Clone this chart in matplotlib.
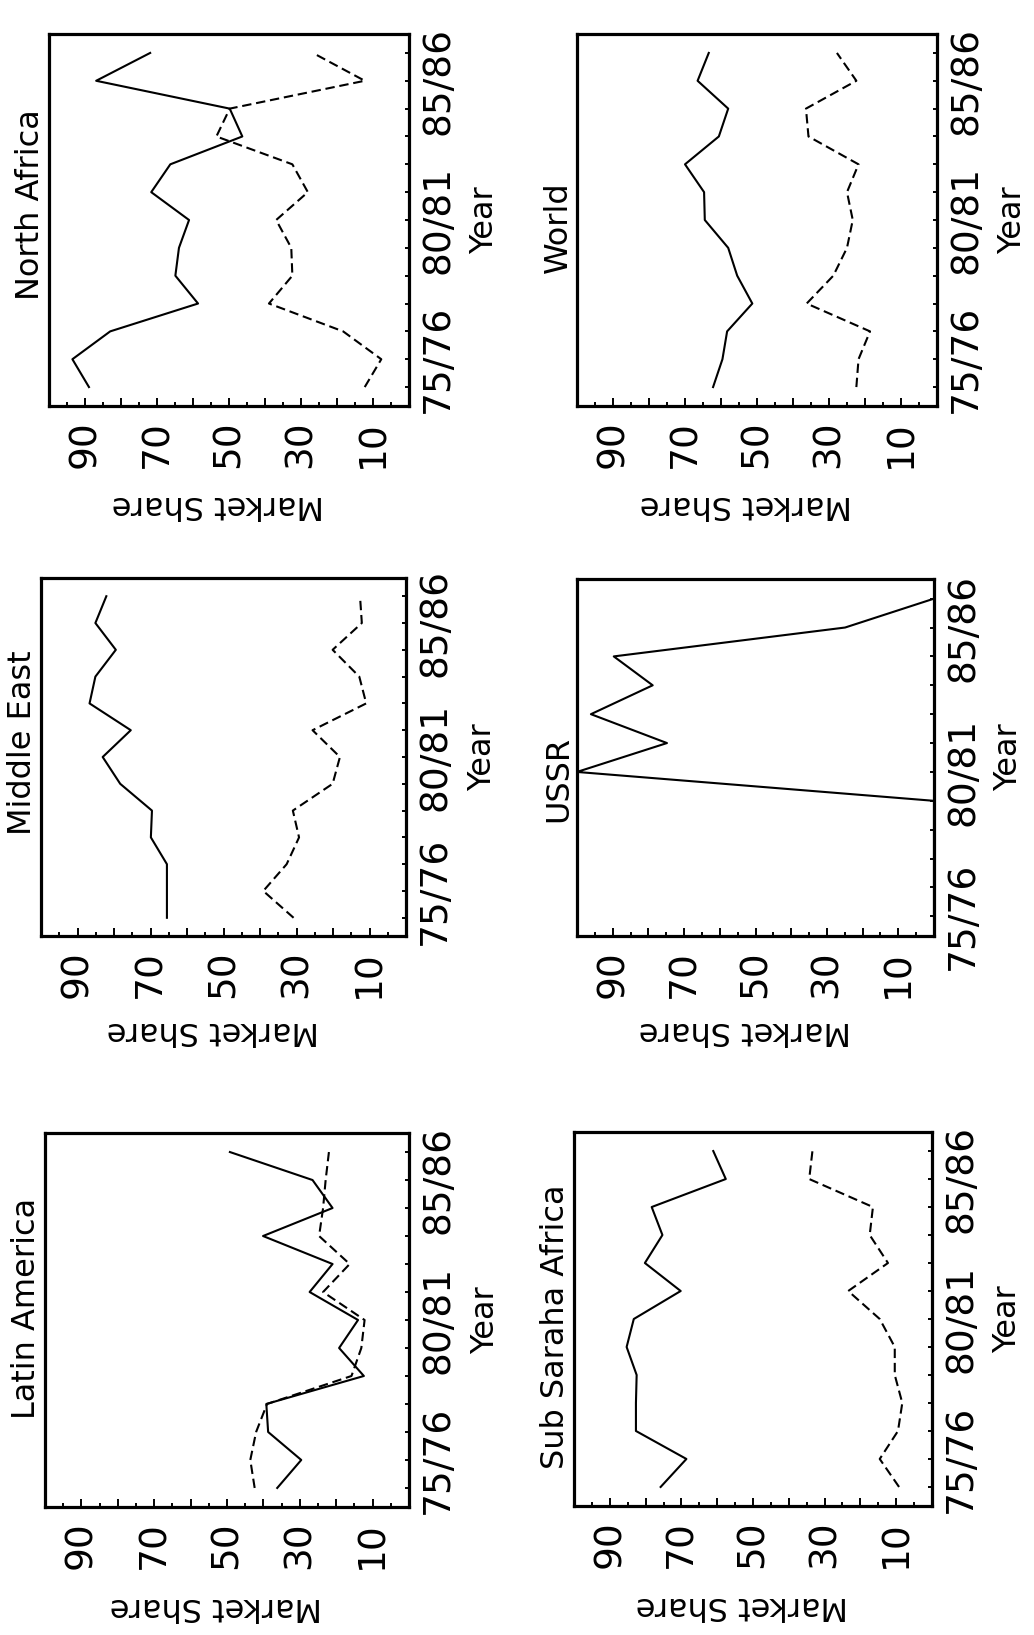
import numpy as np
import matplotlib.pyplot as plt

# crop years, one point per season
years = ['74/75', '75/76', '76/77', '77/78', '78/79', '79/80', '80/81',
         '81/82', '82/83', '83/84', '84/85', '85/86', '86/87']
year_labels = ['75/76', '80/81', '85/86']

share_major = [10, 20, 30, 40, 50, 60, 70, 80, 90]
share_minor = [5, 15, 25, 35, 45, 55, 65, 75, 85, 95]
share_labels = [90, 70, 50, 30, 10]

# market share, solid and dashed series for each region
latin_solid = [36.2, 29.6, 38.7, 39.2, 12.4, 19.2, 14.0, 27.3, 21.0, 40.1, 21.0, 26.5, 49.2]
latin_dashed = [42.4, 43.6, 42.0, 39.0, 15.8, 13.1, 12.2, 23.6, 16.3, 24.7, 23.6, 22.9, 22.0]

middle_solid = [65.5, 65.5, 65.5, 69.9, 69.6, 78.3, 83.1, 75.4, 86.7, 85.1, 79.5, 85.1, 82.1]
middle_dashed = [30.8, 39.1, 32.7, 29.3, 31.0, 20.1, 18.1, 25.6, 10.9, 12.8, 20.1, 12.1, 12.6]

north_solid = [88.9, 93.5, 83.0, 58.6, 64.9, 63.9, 61.1, 71.6, 66.3, 46.3, 49.8, 86.9, 71.9]
north_dashed = [12.3, 7.7, 18.3, 38.9, 32.4, 32.7, 36.9, 28.1, 32.4, 53.5, 49.8, 12.3, 26.7]

subsahara_solid = [75.8, 68.6, 82.7, 82.7, 82.5, 85.3, 83.3, 70.2, 80.2, 75.3, 78.3, 57.6, 61.1]
subsahara_dashed = [9.2, 14.6, 9.5, 8.3, 10.4, 10.4, 14.6, 23.4, 12.3, 17.4, 16.5, 34.3, 33.4]

# USSR panel starts at 75/76
ussr_solid = [None, 0, 0, 0, 0, 0, 100, 74.8, 96.1, 78.8, 89.7, 24.9, 0]

world_solid = [62.2, 59.6, 58.3, 51.3, 55.5, 58.0, 64.5, 64.7, 70.0, 60.6, 58.0, 66.5, 63.4]
world_dashed = [22.4, 21.8, 18.6, 36.2, 28.8, 25.0, 23.4, 25.0, 21.8, 35.7, 36.4, 22.4, 27.8]

W, H = 1034, 1635
fig = plt.figure(figsize=(W / 100, H / 100), dpi=100)
plt.rcParams['font.family'] = 'DejaVu Sans'

# the page is printed sideways: share runs along the bottom (100 -> 0),
# years run up the right side
panels = [
    # title, solid, dashed, box (x0, x1, ytop, ybottom) in pixels, title pos, first year
    ('North Africa', north_solid, north_dashed, (49, 409, 34, 406), 0.54, 0),
    ('World', world_solid, world_dashed, (577, 937, 34, 406), 0.48, 0),
    ('Middle East', middle_solid, middle_dashed, (41, 406, 578, 936), 0.54, 0),
    ('USSR', ussr_solid, None, (577, 934, 579, 936), 0.44, 1),
    ('Latin America', latin_solid, latin_dashed, (45, 409, 1133, 1507), 0.53, 0),
    ('Sub Saraha Africa', subsahara_solid, subsahara_dashed, (574, 932, 1132, 1506), 0.48, 0),
]

idx = np.arange(len(years))

for title, solid, dashed, box, ty, first in panels:
    x0, x1, y0, y1 = box
    ax = fig.add_axes([x0 / W, 1 - y1 / H, (x1 - x0) / W, (y1 - y0) / H])
    ax.plot(np.array(solid[first:], dtype=float), idx[first:], color='black', lw=1.5)
    if dashed is not None:
        ax.plot(dashed[first:], idx[first:], color='black', lw=1.5,
                linestyle=(0, (4.5, 2.3)))

    ax.set_xlim(100, 0)
    ax.set_ylim(first - 0.68, len(years) - 1 + 0.68)

    ax.set_xticks(share_major,
                  [str(v) if v in share_labels else '' for v in share_major],
                  rotation=90, fontsize=27)
    ax.set_xticks(share_minor, minor=True)
    ax.tick_params(axis='x', which='major', direction='in', length=5.5, width=1.4, pad=10)
    ax.tick_params(axis='x', which='minor', direction='in', length=3, width=1.4)

    ax.yaxis.tick_right()
    ax.set_yticks([years.index(y) for y in year_labels], year_labels,
                  rotation=90, va='center', fontsize=27)
    ax.set_yticks(idx[first:], minor=True)
    ax.tick_params(axis='y', which='both', direction='in', length=3, width=1.4,
                   left=False, right=True, pad=8)

    for sp in ax.spines.values():
        sp.set_linewidth(2.3)

    ax.text(-0.052, ty, title, rotation=90, ha='center', va='center',
            fontsize=23, transform=ax.transAxes)
    ax.text(0.47, -0.265, 'Market Share', rotation=180, ha='center', va='center',
            fontsize=23, transform=ax.transAxes)
    ax.text(1.21, 0.5, 'Year', rotation=90, ha='center', va='center',
            fontsize=23, transform=ax.transAxes)

fig.savefig('out.png', dpi=100)
